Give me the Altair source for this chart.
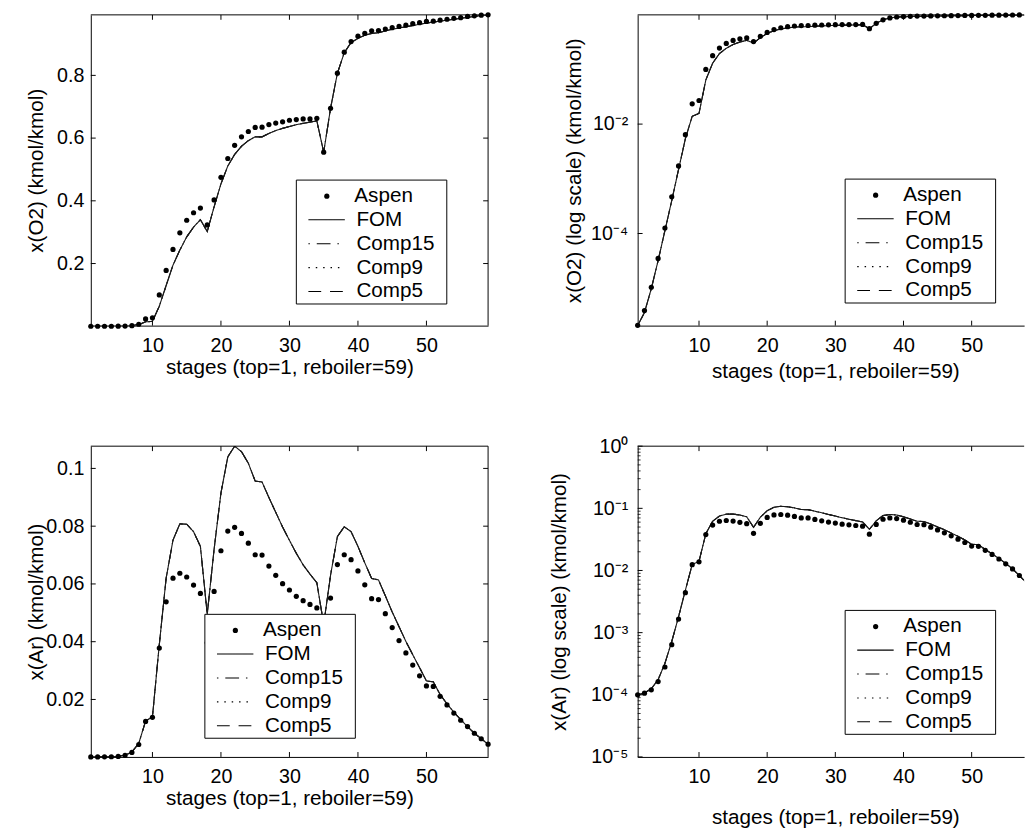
import altair as alt
import pandas as pd

FONT = "Liberation Sans"

STAGES = list(range(1, 60))
POINT_SERIES = ["Aspen"]
LINE_SERIES = ["FOM", "Comp15", "Comp9", "Comp5"]

ASPEN_O2 = [2.1e-6, 3.9e-6, 1.04e-5, 3.5e-5, 1.26e-4, 4.7e-4, 1.72e-3, 6.4e-3, 0.0235, 0.027,
            0.100, 0.178, 0.245, 0.298, 0.338, 0.362, 0.377, 0.323, 0.403, 0.475,
            0.535, 0.577, 0.604, 0.621, 0.634, 0.635, 0.643, 0.648, 0.652, 0.657,
            0.659, 0.661, 0.661, 0.663, 0.555, 0.695, 0.807, 0.874, 0.908, 0.925,
            0.934, 0.942, 0.943, 0.948, 0.952, 0.956, 0.960, 0.965, 0.968, 0.972,
            0.973, 0.976, 0.979, 0.982, 0.984, 0.988, 0.990, 0.992, 0.993]
FOM_O2 = [2.07e-6, 3.6e-6, 9.8e-6, 3.2e-5, 1.13e-4, 4.0e-4, 1.48e-3, 5.4e-3, 0.0139, 0.0157,
          0.064, 0.130, 0.195, 0.243, 0.285, 0.316, 0.340, 0.302, 0.381, 0.454,
          0.511, 0.548, 0.574, 0.592, 0.604, 0.604, 0.615, 0.624, 0.631, 0.637,
          0.643, 0.647, 0.651, 0.655, 0.555, 0.695, 0.807, 0.872, 0.905, 0.918,
          0.928, 0.934, 0.936, 0.942, 0.947, 0.951, 0.955, 0.959, 0.963, 0.967,
          0.970, 0.973, 0.976, 0.979, 0.982, 0.985, 0.988, 0.991, 0.993]
# the reduced-model curves lie on top of the FOM curve in the figure
COMP15_O2 = list(FOM_O2)
COMP9_O2 = list(FOM_O2)
COMP5_O2 = list(FOM_O2)

ASPEN_AR = [1.0e-4, 1.06e-4, 1.2e-4, 1.63e-4, 2.8e-4, 6.4e-4, 1.65e-3, 4.4e-3, 0.0124, 0.0138,
            0.0378, 0.0538, 0.0620, 0.0637, 0.0624, 0.0596, 0.0567, 0.0396, 0.0574, 0.0715,
            0.0783, 0.0796, 0.0775, 0.0741, 0.0701, 0.0700, 0.0662, 0.0630, 0.0601, 0.0579,
            0.0557, 0.0542, 0.0529, 0.0517, 0.0384, 0.0551, 0.0667, 0.0701, 0.0684, 0.0645,
            0.0597, 0.0549, 0.0546, 0.0497, 0.0449, 0.0404, 0.0361, 0.0319, 0.0282, 0.0247,
            0.0245, 0.0211, 0.0181, 0.0153, 0.0128, 0.0106, 0.0083, 0.0064, 0.0045]
FOM_AR = [1.0e-4, 1.07e-4, 1.25e-4, 1.75e-4, 3.2e-4, 7.2e-4, 1.8e-3, 4.8e-3, 0.0125, 0.0140,
          0.039, 0.062, 0.0752, 0.0808, 0.0807, 0.0781, 0.0730, 0.0495, 0.072, 0.0915,
          0.1040, 0.1077, 0.1058, 0.1018, 0.0956, 0.0953, 0.0899, 0.0848, 0.0797, 0.0751,
          0.0706, 0.0666, 0.0634, 0.0604, 0.0460, 0.063, 0.0764, 0.0798, 0.0781, 0.0730,
          0.0673, 0.0619, 0.0614, 0.0559, 0.0503, 0.0452, 0.0401, 0.0355, 0.0310, 0.0264,
          0.0261, 0.0217, 0.0185, 0.0156, 0.0130, 0.0106, 0.0083, 0.0064, 0.0045]
COMP15_AR = list(FOM_AR)
COMP9_AR = list(FOM_AR)
COMP5_AR = list(FOM_AR)

X_TICKS = [10, 20, 30, 40, 50]
O2_LIN_TICKS = [0.2, 0.4, 0.6, 0.8]
O2_LOG_TICKS = [1e-4, 1e-2]
AR_LIN_TICKS = [0.02, 0.04, 0.06, 0.08, 0.1]
AR_LOG_TICKS = [1e-5, 1e-4, 1e-3, 1e-2, 1e-1, 1.0]
AR_LOG_MINOR = [m * 10.0 ** e for e in range(-5, 0) for m in range(2, 10)]

X_TITLE = "stages (top=1, reboiler=59)"

H = 316
W_LEFT = 404
W_RIGHT = 393
XMAX_RIGHT = 57.7
FULL_W = 402

DASHES = [[1, 0], [1.5, 7, 14, 7], [1.5, 6], [13, 9]]
LINE_SYMBOL = "M-1.59,0L1.59,0"
LINE_SYM_SIZE = 543
DOT_SIZE = 28
LEG_W, LEG_H = 153, 126
LEG_FONT = 21

SUP_EXPR = ("'10' + (round(log(datum.value)/LN10) < 0 ? '\u207b' : '') + "
            "substring('\u2070\u00b9\u00b2\u00b3\u2074\u2075\u2076\u2077\u2078\u2079', "
            "abs(round(log(datum.value)/LN10)), abs(round(log(datum.value)/LN10)) + 1)")


def panel(aspen, fom, c15, c9, c5, *, width, xmax, ydomain, ytype, yticks, yfmt,
          ytitle, ytitle_x, xtitle_y, ylabpad, box, minor=None, right_side=True):
    xs = alt.Scale(domain=[1, xmax], nice=False, zero=False)
    if ytype == "log":
        ys = alt.Scale(type="log", domain=ydomain, nice=False)
    else:
        ys = alt.Scale(domain=ydomain, nice=False, zero=False)

    xaxis = alt.Axis(values=X_TICKS, ticks=False, grid=False, domain=True, domainColor="black",
                     labelPadding=10, labelFlush=False, title=X_TITLE,
                     titleX=(width if right_side else FULL_W) / 2, titleY=xtitle_y,
                     titleBaseline="middle", titleAlign="center")
    yargs = dict(values=yticks, ticks=False, grid=False, domain=True, domainColor="black",
                 labelPadding=ylabpad, labelFlush=False, labelOverlap=False, labelBound=False,
                 title=ytitle, titleX=ytitle_x, titleY=H / 2, titleAngle=-90,
                 titleBaseline="middle", titleAlign="center")
    if ytype == "log":
        yargs["labelExpr"] = SUP_EXPR
    else:
        yargs["format"] = yfmt
    yaxis = alt.Axis(**yargs)

    bx, by = box
    leg_pts = alt.Legend(title=None, orient="none", legendX=bx + 20.5, legendY=by + 5.9,
                         padding=0, labelFont=FONT, labelFontSize=LEG_FONT, labelColor="black",
                         labelOffset=17.5, labelLimit=400, symbolSize=DOT_SIZE,
                         symbolFillColor="black", symbolStrokeWidth=0, rowPadding=0)
    leg_lines = alt.Legend(title=None, orient="none", legendX=bx + 18.3, legendY=by + 27.9,
                           padding=0, labelFont=FONT, labelFontSize=LEG_FONT,
                           labelColor="black", labelOffset=17.8, labelLimit=400,
                           symbolType=LINE_SYMBOL, symbolSize=LINE_SYM_SIZE,
                           symbolStrokeWidth=1.1, symbolStrokeColor="black", rowPadding=1.3)

    n = len(STAGES)
    line_df = pd.DataFrame({
        "stage": STAGES * 4,
        "value": list(fom) + list(c15) + list(c9) + list(c5),
        "series": ["FOM"] * n + ["Comp15"] * n + ["Comp9"] * n + ["Comp5"] * n,
    })
    pts_df = pd.DataFrame({"stage": STAGES, "value": aspen, "series": ["Aspen"] * n})

    X = lambda f: alt.X(f, scale=xs, axis=xaxis)
    Y = lambda f: alt.Y(f, scale=ys, axis=yaxis)

    lines = alt.Chart(line_df).mark_line(clip=True, color="#1a1a1a", strokeWidth=1.1).encode(
        x=X("stage:Q"),
        y=Y("value:Q"),
        strokeDash=alt.StrokeDash("series:N", scale=alt.Scale(domain=LINE_SERIES, range=DASHES),
                                  legend=leg_lines),
    )
    pts = alt.Chart(pts_df).mark_point(filled=True, color="black", size=DOT_SIZE,
                                       opacity=1).encode(
        x=X("stage:Q"),
        y=Y("value:Q"),
        shape=alt.Shape("series:N", scale=alt.Scale(domain=POINT_SERIES, range=["circle"]),
                        legend=leg_pts),
    ).transform_filter(alt.datum.stage <= xmax)

    xt = pd.DataFrame({"t": X_TICKS})
    yt = pd.DataFrame({"t": yticks})
    one = pd.DataFrame({"a": [0]})
    layers = [lines, pts]
    layers.append(alt.Chart(xt).mark_rule(color="black", strokeWidth=1).encode(
        x=X("t:Q"), y=alt.value(H), y2=alt.value(H - 5)))
    layers.append(alt.Chart(xt).mark_rule(color="black", strokeWidth=1).encode(
        x=X("t:Q"), y=alt.value(0), y2=alt.value(5)))
    layers.append(alt.Chart(yt).mark_rule(color="black", strokeWidth=1).encode(
        y=Y("t:Q"), x=alt.value(0), x2=alt.value(5)))
    if minor:
        mt = pd.DataFrame({"t": minor})
        layers.append(alt.Chart(mt).mark_rule(color="black", strokeWidth=0.8).encode(
            y=Y("t:Q"), x=alt.value(0), x2=alt.value(3)))
    layers.append(alt.Chart(one).mark_rule(color="black", strokeWidth=1).encode(
        x=alt.value(0), x2=alt.value(width), y=alt.value(0)))
    if right_side:
        layers.append(alt.Chart(yt).mark_rule(color="black", strokeWidth=1).encode(
            y=Y("t:Q"), x=alt.value(width), x2=alt.value(width - 5)))
        layers.append(alt.Chart(one).mark_rule(color="black", strokeWidth=1).encode(
            x=alt.value(width), y=alt.value(0), y2=alt.value(H)))
    # legend frame
    layers.append(alt.Chart(one).mark_rect(fill="white", stroke="black", strokeWidth=1).encode(
        x=alt.value(bx), x2=alt.value(bx + LEG_W), y=alt.value(by), y2=alt.value(by + LEG_H)))
    return alt.layer(*layers).properties(width=width, height=H)


p1 = panel(ASPEN_O2, FOM_O2, COMP15_O2, COMP9_O2, COMP5_O2, width=W_LEFT, xmax=59,
           ydomain=[0.002, 0.993], ytype="linear", yticks=O2_LIN_TICKS, yfmt=".1f",
           ytitle="x(O2) (kmol/kmol)", ytitle_x=-55, xtitle_y=42.4, ylabpad=7,
           box=(209, 168))
p2 = panel(ASPEN_O2, FOM_O2, COMP15_O2, COMP9_O2, COMP5_O2, width=W_RIGHT, xmax=XMAX_RIGHT,
           ydomain=[2.07e-6, 0.993], ytype="log", yticks=O2_LOG_TICKS, yfmt=None,
           ytitle="x(O2) (log scale) (kmol/kmol)", ytitle_x=-64.6, xtitle_y=46.7, ylabpad=10,
           box=(211, 167), right_side=False)
p3 = panel(ASPEN_AR, FOM_AR, COMP15_AR, COMP9_AR, COMP5_AR, width=W_LEFT, xmax=59,
           ydomain=[0.0001, 0.1077], ytype="linear", yticks=AR_LIN_TICKS, yfmt=".2~f",
           ytitle="x(Ar) (kmol/kmol)", ytitle_x=-55, xtitle_y=42.5, ylabpad=7,
           box=(116, 171))
p4 = panel(ASPEN_AR, FOM_AR, COMP15_AR, COMP9_AR, COMP5_AR, width=W_RIGHT, xmax=XMAX_RIGHT,
           ydomain=[1e-5, 1.0], ytype="log", yticks=AR_LOG_TICKS, yfmt=None,
           ytitle="x(Ar) (log scale) (kmol/kmol)", ytitle_x=-79.6, xtitle_y=61.7, ylabpad=10,
           box=(211, 167), minor=AR_LOG_MINOR, right_side=False)

chart = alt.concat(
    p1, p2, p3, p4, columns=2, bounds="flush",
    spacing={"row": 122.6, "column": 152.1},
).resolve_scale(
    x="independent", y="independent", shape="independent", strokeDash="independent"
).resolve_legend(
    shape="independent", strokeDash="independent"
).properties(
    padding={"left": 17.2, "top": -4, "right": 0, "bottom": 0},
    background="white",
).configure(
    font=FONT,
).configure_view(
    stroke="transparent",
).configure_axis(
    labelFont=FONT, titleFont=FONT, labelFontSize=20, titleFontSize=21,
    titleFontWeight="normal", labelColor="black", titleColor="black",
)

chart.save("out.html", embed_options={"renderer": "svg", "actions": False})
